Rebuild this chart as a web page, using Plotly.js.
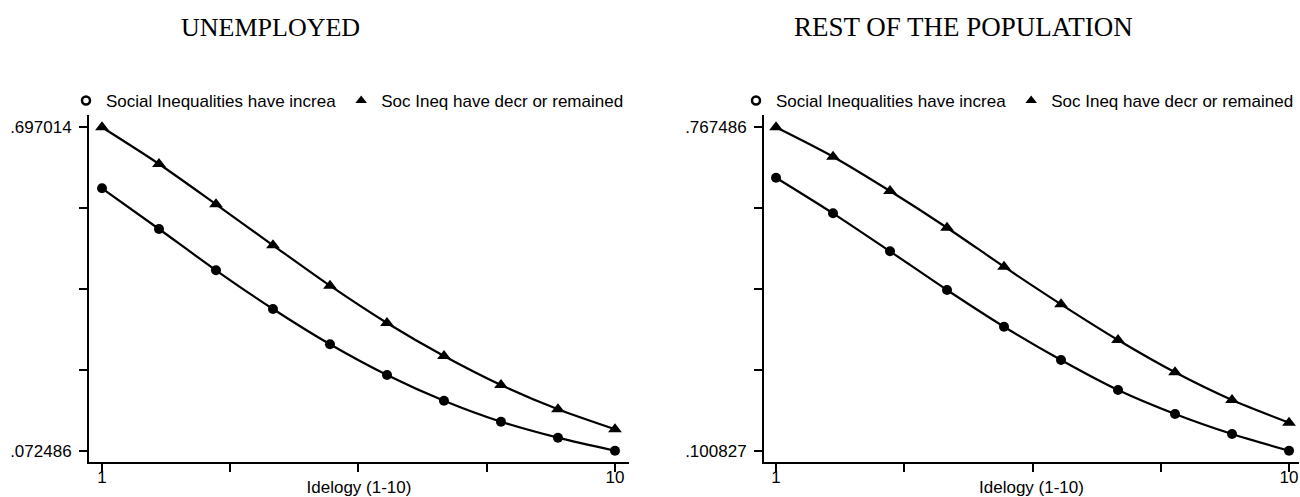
<!DOCTYPE html>
<html>
<head>
<meta charset="utf-8">
<script src="https://cdn.plot.ly/plotly-3.0.1.min.js"></script>
<style>
  html, body { margin: 0; padding: 0; background: #ffffff; }
  #chart { width: 1300px; height: 497px; }
</style>
</head>
<body>
<div id="chart"></div>
<script>
// ---- Data ----
const ideology = [1, 2, 3, 4, 5, 6, 7, 8, 9, 10];

// UNEMPLOYED panel
const unempIncreased = [0.5792, 0.5006, 0.4209, 0.3461, 0.2780, 0.2187, 0.1690, 0.1285, 0.0976, 0.072486];
const unempDecreased = [0.697014, 0.6261, 0.5483, 0.4692, 0.3911, 0.3191, 0.2554, 0.1994, 0.1524, 0.1138];

// REST OF THE POPULATION panel
const restIncreased = [0.6636, 0.5902, 0.5118, 0.4321, 0.3564, 0.2878, 0.2259, 0.1765, 0.1352, 0.100827];
const restDecreased = [0.767486, 0.7069, 0.6361, 0.5605, 0.4801, 0.4026, 0.3290, 0.2624, 0.2053, 0.1585];

// Tick values and labels
const xTickVals = [1, 3.25, 5.5, 7.75, 10];
const xTickText = ["1", "", "", "", "10"];
const unempYTickVals = [0.072486, 0.228618, 0.38475, 0.540882, 0.697014];
const unempYTickText = [".072486", "", "", "", ".697014"];
const restYTickVals = [0.100827, 0.2674918, 0.4341565, 0.6008213, 0.767486];
const restYTickText = [".100827", "", "", "", ".767486"];

const seriesNames = ["Social Inequalities have increa", "Soc Ineq have decr or remained"];
const panelTitles = ["UNEMPLOYED", "REST OF THE POPULATION"];
const xTitle = "Idelogy (1-10)";

// ---- Styling ----
const sans = "Liberation Sans, Arial, sans-serif";
const serif = "Liberation Serif, Times New Roman, serif";
const lineStyle = {color: "#000000", width: 2.2, shape: "spline", smoothing: 0.8};

function dataTrace(y, sym, size, xa, ya) {
  return {
    x: ideology, y: y, xaxis: xa, yaxis: ya,
    mode: "lines+markers", type: "scatter",
    line: lineStyle,
    marker: {symbol: sym, size: size, color: "#000000"},
    showlegend: false, hoverinfo: "x+y"
  };
}
function legendTrace(name, marker, xa, ya, legend) {
  return {
    x: [null], y: [null], xaxis: xa, yaxis: ya,
    mode: "markers", type: "scatter", name: name,
    marker: marker, legend: legend, showlegend: true
  };
}

const ringMarker = {symbol: "circle-open", size: 8, color: "#000000", line: {width: 2.5, color: "#000000"}};
const triMarker = {symbol: "triangle-up", size: 10, color: "#000000"};

const traces = [
  dataTrace(unempIncreased, "circle", 10, "x", "y"),
  dataTrace(unempDecreased, "triangle-up", 12, "x", "y"),
  dataTrace(restIncreased, "circle", 10, "x2", "y2"),
  dataTrace(restDecreased, "triangle-up", 12, "x2", "y2"),
  legendTrace(seriesNames[0], ringMarker, "x", "y", "legend"),
  legendTrace(seriesNames[1], triMarker, "x", "y", "legend"),
  legendTrace(seriesNames[0], ringMarker, "x2", "y2", "legend2"),
  legendTrace(seriesNames[1], triMarker, "x2", "y2", "legend2")
];

const W = 1300, H = 497, mt = 115, mb = 35;
const PH = H - mt - mb;
function py(pix) { return 1 + (mt - pix) / PH; }

const axisCommon = {
  showline: true, linewidth: 2, linecolor: "#000000",
  ticks: "outside", ticklen: 8, tickwidth: 2, tickcolor: "#000000",
  showgrid: false, zeroline: false,
  tickfont: {family: sans, size: 17, color: "#000000"},
  tickmode: "array", automargin: false, fixedrange: true
};

const layout = {
  width: W, height: H,
  margin: {l: 0, r: 0, t: mt, b: mb, pad: 0, autoexpand: false},
  paper_bgcolor: "#ffffff", plot_bgcolor: "#ffffff",
  font: {family: sans, size: 17, color: "#000000"},
  xaxis: Object.assign({}, axisCommon, {
    domain: [89 / W, 629 / W], range: [0.772, 10.246],
    tickvals: xTickVals, ticktext: xTickText, anchor: "y",
    ticklabelstandoff: -9,
    title: {text: xTitle, font: {family: sans, size: 17}, standoff: 6}
  }),
  yaxis: Object.assign({}, axisCommon, {
    domain: [0, 1], range: [0.05066, 0.72077], anchor: "x",
    tickvals: unempYTickVals, ticktext: unempYTickText,
    ticklabelstandoff: 4
  }),
  xaxis2: Object.assign({}, axisCommon, {
    domain: [764 / W, 1299 / W], range: [0.789, 10.175],
    tickvals: xTickVals, ticktext: xTickText, anchor: "y2",
    ticklabelstandoff: -9,
    title: {text: xTitle, font: {family: sans, size: 17}, standoff: 6}
  }),
  yaxis2: Object.assign({}, axisCommon, {
    domain: [0, 1], range: [0.07753, 0.79284], anchor: "x2",
    tickvals: restYTickVals, ticktext: restYTickText,
    ticklabelstandoff: 4
  }),
  legend: {
    orientation: "h", x: 66 / W, xanchor: "left", y: py(101), yanchor: "middle",
    font: {family: sans, size: 17, color: "#000000"}, bgcolor: "rgba(0,0,0,0)",
    itemwidth: 30, tracegroupgap: 0
  },
  legend2: {
    orientation: "h", x: 736 / W, xanchor: "left", y: py(101), yanchor: "middle",
    font: {family: sans, size: 17, color: "#000000"}, bgcolor: "rgba(0,0,0,0)",
    itemwidth: 30, tracegroupgap: 0
  },
  annotations: [
    {text: panelTitles[0], xref: "paper", yref: "paper", x: 270 / W, y: py(27),
     xanchor: "center", yanchor: "middle", showarrow: false,
     font: {family: serif, size: 26, color: "#000000"}},
    {text: panelTitles[1], xref: "paper", yref: "paper", x: 963 / W, y: py(27),
     xanchor: "center", yanchor: "middle", showarrow: false,
     font: {family: serif, size: 27, color: "#000000"}}
  ],
  showlegend: true
};

Plotly.newPlot("chart", traces, layout, {displayModeBar: false, staticPlot: true});
</script>
</body>
</html>
